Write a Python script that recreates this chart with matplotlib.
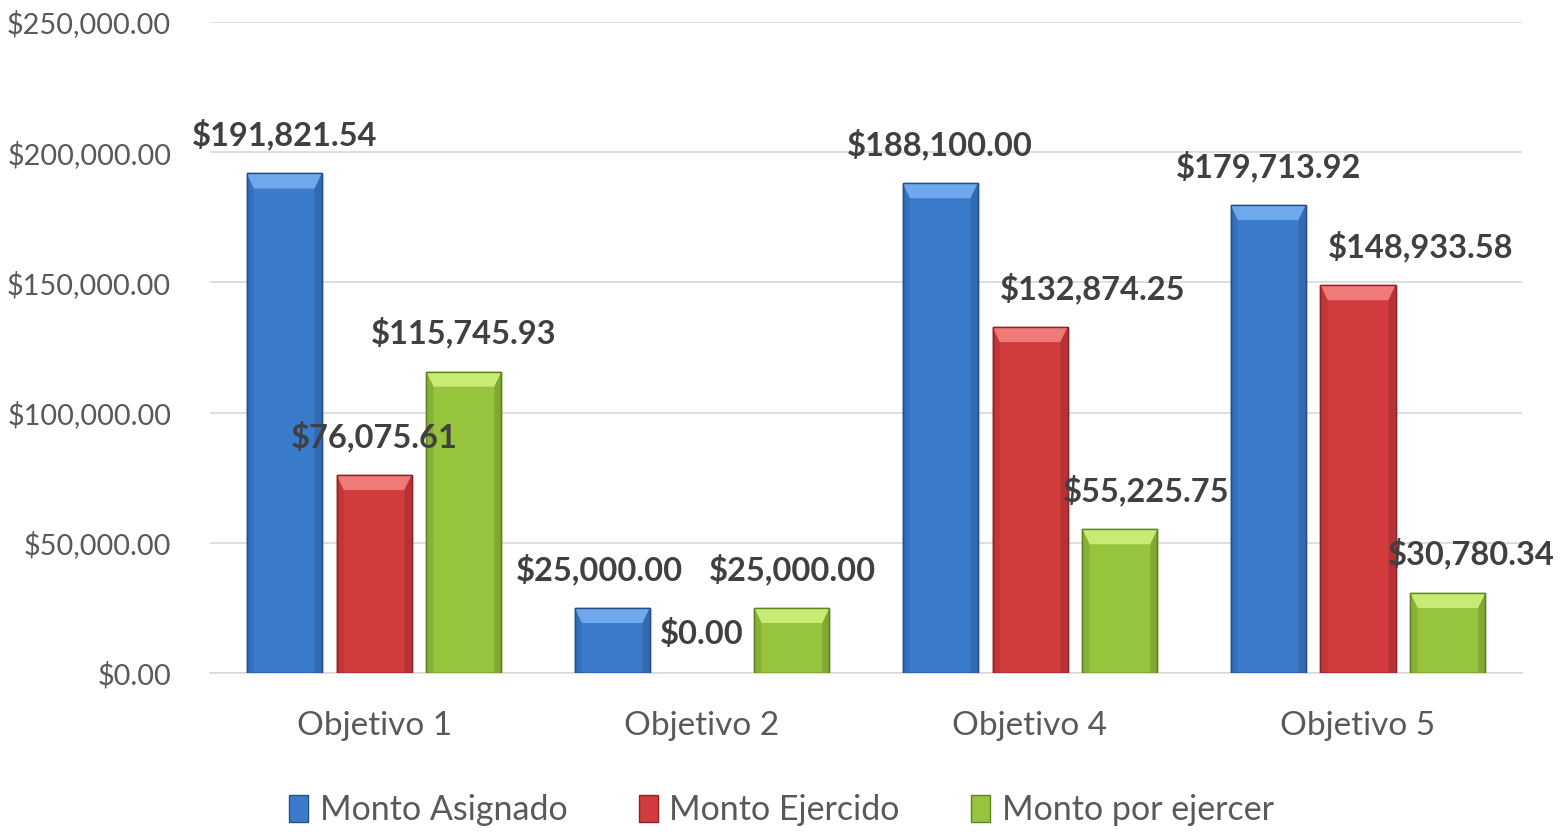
import numpy as np
import matplotlib.pyplot as plt
from matplotlib.patches import Polygon

categorias = ["Objetivo 1", "Objetivo 2", "Objetivo 4", "Objetivo 5"]
monto_asignado = [191821.54, 25000.00, 188100.00, 179713.92]
monto_ejercido = [76075.61, 0.00, 132874.25, 148933.58]
monto_por_ejercer = [115745.93, 25000.00, 55225.75, 30780.34]
series = ["Monto Asignado", "Monto Ejercido", "Monto por ejercer"]

colores = ["#3A7BCC", "#D23C3D", "#96C43C"]
claros = ["#6FA8EC", "#F07A78", "#C8EC73"]
oscuros = ["#2B5C9C", "#A22B2D", "#6F9328"]
bordes = ["#24508A", "#8E2224", "#5E8222"]
# small horizontal nudges for the value labels (in category units)
nudge = [
    [0.0, 0.0, 0.0],
    [-0.04, 0.0, 0.0],
    [0.0, 0.19, 0.08],
    [0.0, 0.19, 0.07],
]

plt.rcParams["font.family"] = ["Lato", "DejaVu Sans"]

fig = plt.figure(figsize=(15.63, 8.32), dpi=100)
ax = fig.add_axes([0.1344, 0.1911, 0.8394, 0.7825])

x = np.arange(len(categorias))
w = 0.229
off = 0.274
bx = 0.022     # side bevel width (category units)
by = 5800      # top bevel height (data units)
datos = [monto_asignado, monto_ejercido, monto_por_ejercer]
for i, vals in enumerate(datos):
    bars = ax.bar(x + (i - 1) * off, vals, w, color=colores[i], edgecolor=bordes[i],
                  linewidth=1.0, label=series[i], zorder=3)
    for j, b in enumerate(bars):
        v = vals[j]
        if v <= 0:
            b.set_edgecolor("none")
        else:
            x0, x1, h = b.get_x(), b.get_x() + b.get_width(), b.get_height()
            top = Polygon([(x0, h), (x1, h), (x1 - bx, h - by), (x0 + bx, h - by)],
                          closed=True, facecolor=claros[i], edgecolor="none", zorder=4)
            left = Polygon([(x0, h), (x0 + bx, h - by), (x0 + bx, 0), (x0, 0)],
                           closed=True, facecolor=oscuros[i], edgecolor="none", alpha=0.35, zorder=4)
            right = Polygon([(x1, h), (x1 - bx, h - by), (x1 - bx, 0), (x1, 0)],
                            closed=True, facecolor=oscuros[i], edgecolor="none", alpha=0.55, zorder=4)
            for p in (top, left, right):
                ax.add_patch(p)
            ax.add_patch(Polygon([(x0, 0), (x1, 0), (x1, h), (x0, h)], closed=True,
                                 facecolor="none", edgecolor=bordes[i], linewidth=1.0, zorder=5))
        ax.annotate(f"${v:,.2f}", (b.get_x() + b.get_width() / 2 + nudge[j][i], v),
                    xytext=(0, 28), textcoords="offset points", ha="center", va="center",
                    fontsize=23.5, fontweight="bold", color="#404040", zorder=6)

ax.set_xlim(-0.5, 3.5)
ax.set_ylim(0, 250000)
ax.set_yticks(np.arange(0, 250001, 50000))
ax.yaxis.set_major_formatter(plt.FuncFormatter(lambda v, p: f"${v:,.2f}"))
ax.set_xticks(x)
ax.set_xticklabels(categorias)
ax.tick_params(axis="both", length=0, colors="#595959")
ax.tick_params(axis="y", pad=28, labelsize=20.8)
ax.tick_params(axis="x", pad=27, labelsize=24)
ax.grid(axis="y", color="#D9D9D9", linewidth=1.2, zorder=0)
for s in ["top", "right", "left"]:
    ax.spines[s].set_visible(False)
ax.spines["bottom"].set_color("#D9D9D9")
ax.spines["bottom"].set_linewidth(1.2)

leg = fig.legend(loc="lower center", bbox_to_anchor=(0.5, -0.03), ncol=3, frameon=False,
                 fontsize=24.5, handlelength=0.55, handleheight=0.85, handletextpad=0.35,
                 columnspacing=2.1)
for t in leg.get_texts():
    t.set_color("#595959")

fig.savefig("out.png", dpi=100)
